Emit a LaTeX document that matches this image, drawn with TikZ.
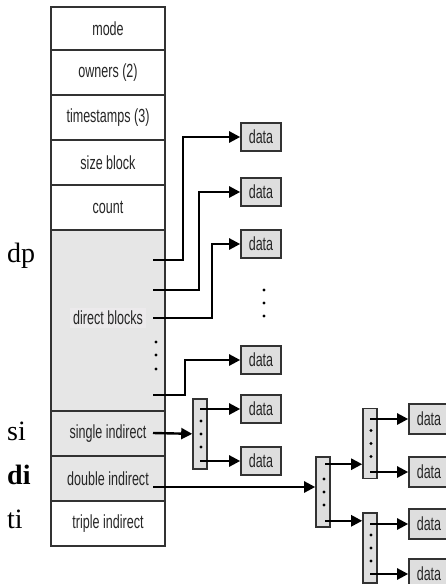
\documentclass[tikz,border=0pt]{standalone}
\usepackage{fontspec}
\setmainfont{Liberation Serif}
\newfontfamily\narrowsans[FakeStretch=0.66]{Liberation Sans}
\usepackage{tikz}
\usetikzlibrary{arrows.meta,positioning,calc}
\definecolor{rowgray}{RGB}{230,230,230}
\definecolor{labelgray}{RGB}{236,234,236}
\definecolor{boxgray}{RGB}{222,222,222}
\definecolor{edgegray}{RGB}{50,50,50}

\begin{document}
\begin{tikzpicture}[
  x=1pt, y=-1pt,
  every node/.style={font=\narrowsans\fontsize{19}{22}\selectfont, text=black!85},
  field/.style={draw=edgegray, line width=1.3pt, minimum width=114pt, minimum height=45pt, inner sep=0pt, outer sep=0pt},
  datablk/.style={draw=edgegray, line width=1.6pt, fill=boxgray, minimum width=40pt, minimum height=28pt, inner sep=0pt},
  idxblk/.style={draw=edgegray, line width=1.6pt, fill=boxgray, minimum width=14pt, minimum height=70pt, inner sep=0pt},
  ptr/.style={line width=2.4pt, -{Triangle[length=11pt,width=11pt]}},
  tag/.style={font=\fontsize{28}{30}\selectfont, text=black, anchor=base west, inner sep=0pt},
  node distance=0pt
]
\useasboundingbox (0,0) rectangle (446,584);

% inode fields
\node[field, minimum height=43pt] (mode) at (108,28.5) {mode};
\node[field, below=of mode] (owners) {owners (2)};
\node[field, below=of owners] (stamps) {timestamps (3)};
\node[field, below=of stamps] (size) {size block};
\node[field, below=of size] (count) {count};
\node[field, fill=rowgray, minimum height=181pt, below=of count] (direct) {};
\node[field, fill=rowgray, below=of direct] (single) {single indirect};
\node[field, fill=rowgray, below=of single] (double) {double indirect};
\node[field, below=of double] (triple) {triple indirect};
\node[fill=labelgray] (dlabel) at (108,318) {direct blocks};
\foreach \y in {342,355,369}
  \fill (156,\y) circle (1.6pt);

% left tags
\node[tag] (tagdp) at (7,262) {dp};
\node[tag] (tagsi) at (7,440) {si};
\node[tag] (tagdi) at (7,484) {\bfseries di};
\node[tag] (tagti) at (7,528) {ti};

% direct data blocks
\node[datablk] (d1) at (261,137) {data};
\node[datablk] (d2) at (261,192) {data};
\node[datablk] (d3) at (261,244) {data};
\node[datablk] (d4) at (261,360) {data};
\foreach \y in {290,303,316}
  \fill (264,\y) circle (1.6pt);

\coordinate (p1) at (153,260);
\coordinate (p2) at (153,290);
\coordinate (p3) at (153,318);
\coordinate (p4) at (153,395);
\foreach \p/\dx/\d in {p1/30/d1, p2/46/d2, p3/59/d3, p4/32/d4}
  \draw[ptr] (\p) -- ++(\dx,0) |- (\d);

% single indirect
\node[idxblk] (s1) at (200,434) {};
\node[datablk] (d5) at (261,409) {data};
\node[datablk] (d6) at (261,461) {data};
\foreach \k in {-13,0,13}
  \fill ($(s1)+(1,\k)$) circle (1.6pt);
\coordinate (ptrsi) at (153,433);
\draw[ptr] (ptrsi) -- (s1);
\foreach \d in {d5,d6}
  \draw[ptr] (s1.center |- \d) -- (\d);

% double indirect
\node[idxblk] (i2) at (323,492) {};
\node[idxblk] (i2a) at (370,443.5) {};
\node[idxblk] (i2b) at (370,548) {};
\node[datablk, minimum height=30pt] (r1) at (429,419) {data};
\node[datablk, minimum height=30pt] (r2) at (429,472) {data};
\node[datablk, minimum height=30pt] (r3) at (429,524) {data};
\node[datablk, minimum height=30pt] (r4) at (429,574) {data};
\foreach \b in {i2,i2a,i2b}
  \foreach \k in {-13,0,13}
    \fill ($(\b)+(1,\k)$) circle (1.6pt);

\coordinate (ptrdi) at (153,487);
\draw[ptr] (ptrdi) -- (ptrdi -| i2.west);
\coordinate (u1) at ($(i2.north)+(2,8)$);
\coordinate (u2) at ($(i2.south)+(2,-7)$);
\draw[ptr] (u1) -- (u1 -| i2a.west);
\draw[ptr] (u2) -- (u2 -| i2b.west);
\foreach \b/\d in {i2a/r1, i2a/r2, i2b/r3, i2b/r4}
  \draw[ptr] (\b.center |- \d) -- (\d);
\end{tikzpicture}
\end{document}
